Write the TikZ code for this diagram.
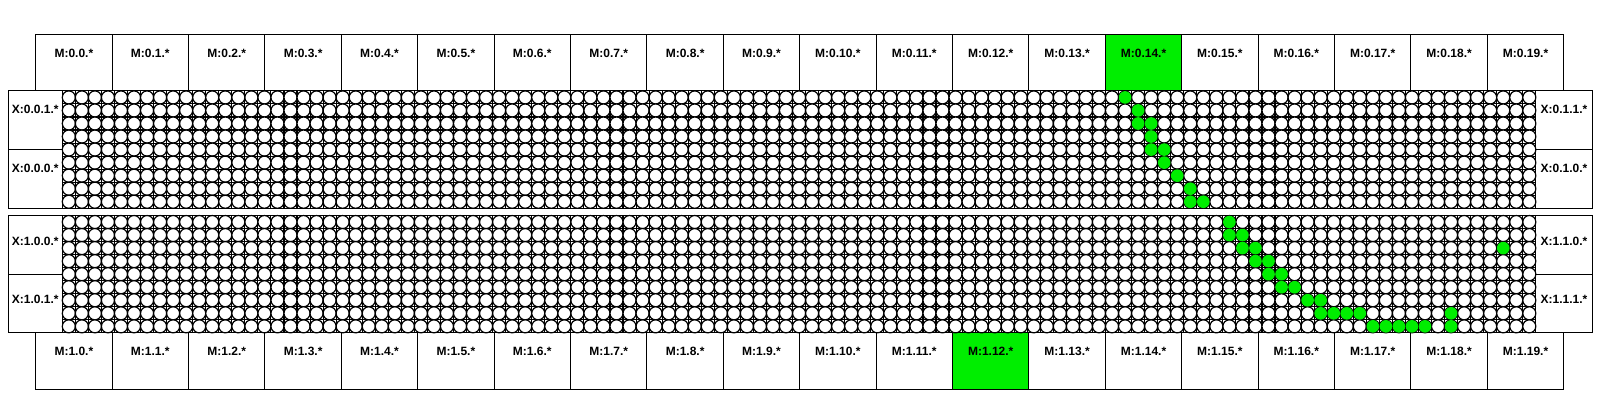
\documentclass[tikz,border=0pt]{standalone}
\usepackage{fontspec}
\setmainfont{Liberation Sans}
\definecolor{hl}{RGB}{0,238,0}
\begin{document}
\begin{tikzpicture}[x=1pt,y=-1pt,
  mbox/.style={draw=black, line width=1pt, minimum width=76.4pt, minimum height=56.6pt, inner sep=0pt, outer sep=0pt, anchor=north west},
  xbox/.style={draw=black, line width=1pt, minimum height=58.68pt, inner sep=0pt, outer sep=0pt, anchor=north west},
  lab/.style={font=\bfseries\fontsize{12}{14}\selectfont, anchor=base, inner sep=0pt},
  gline/.style={line width=1.1pt},
  cellc/.style={draw=black, fill=white, line width=1.2pt},
  oncell/.style={fill=hl}]
\useasboundingbox (0,0) rectangle (1600,400);

% M boxes
\foreach \k in {0,...,19}{
  \ifnum\k=14 \def\bx{hl}\else\def\bx{white}\fi
  \node[mbox, fill=\bx] (m0-\k) at ({35.7+\k*76.4},34.3) {};
  \node[lab] (tm0-\k) at ([yshift=-23pt]m0-\k.north) {M:0.\k.*};
}
\foreach \k in {0,...,19}{
  \ifnum\k=12 \def\bx{hl}\else\def\bx{white}\fi
  \node[mbox, fill=\bx] (m1-\k) at ({35.7+\k*76.4},332.86) {};
  \node[lab] (tm1-\k) at ([yshift=-23pt]m1-\k.north) {M:1.\k.*};
}

% X boxes
\node[xbox, minimum width=54pt] (xl01) at (8.3,90.9) {};
\node[xbox, minimum width=54pt] (xl00) at (8.3,149.58) {};
\node[xbox, minimum width=54pt] (xl10) at (8.3,215.5) {};
\node[xbox, minimum width=54pt] (xl11) at (8.3,274.18) {};
\node[xbox, minimum width=56.18pt] (xr01) at (1535.82,90.9) {};
\node[xbox, minimum width=56.18pt] (xr00) at (1535.82,149.58) {};
\node[xbox, minimum width=56.18pt] (xr10) at (1535.82,215.5) {};
\node[xbox, minimum width=56.18pt] (xr11) at (1535.82,274.18) {};
\node[lab] (txl01) at ([yshift=-23pt]xl01.north) {X:0.0.1.*};
\node[lab] (txl00) at ([yshift=-23pt]xl00.north) {X:0.0.0.*};
\node[lab] (txl10) at ([yshift=-30pt]xl10.north) {X:1.0.0.*};
\node[lab] (txl11) at ([yshift=-29pt]xl11.north) {X:1.0.1.*};
\node[lab] (txr01) at ([yshift=-23pt]xr01.north) {X:0.1.1.*};
\node[lab] (txr00) at ([yshift=-23pt]xr00.north) {X:0.1.0.*};
\node[lab] (txr10) at ([yshift=-30pt]xr10.north) {X:1.1.0.*};
\node[lab] (txr11) at ([yshift=-29pt]xr11.north) {X:1.1.1.*};

% grids
\foreach \yy in {90.9,215.5}{
  \foreach \i in {0,...,113} \draw[gline] ({62.3+\i*13.04},\yy) -- ({62.3+\i*13.04},{\yy+117.36});
  \foreach \j in {0,...,9} \draw[gline] (62.3,{\yy+\j*13.04}) -- (1535.82,{\yy+\j*13.04});
  \foreach \i in {0,...,112}{
    \foreach \j in {0,...,8}{
      \draw[cellc] ({62.3+(\i+0.5)*13.04},{\yy+(\j+0.5)*13.04}) circle[radius=6.52pt];
    }
  }
  \draw[line width=1pt] (62.3,\yy) rectangle (1535.82,{\yy+117.36});
}

% highlighted cells
\foreach \i/\j in {81/0,82/1,82/2,83/2,83/3,83/4,84/4,84/5,85/6,86/7,86/8,87/8}{
  \fill[oncell] ({62.3+(\i+0.5)*13.04},{90.9+(\j+0.5)*13.04}) circle[radius=6.3pt];
}
\foreach \i/\j in {89/0,89/1,90/1,90/2,91/2,91/3,92/3,92/4,93/4,93/5,94/5,95/6,96/6,96/7,97/7,98/7,99/7,100/8,101/8,102/8,103/8,104/8,110/2,106/7,106/8}{
  \fill[oncell] ({62.3+(\i+0.5)*13.04},{215.5+(\j+0.5)*13.04}) circle[radius=6.3pt];
}
\end{tikzpicture}
\end{document}
